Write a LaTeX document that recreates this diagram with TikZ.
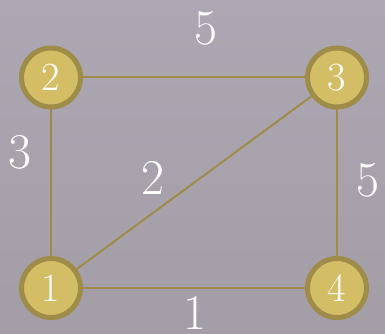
\documentclass[tikz,border=0pt]{standalone}
\usepackage{fontspec}
\definecolor{bgtop}{HTML}{ADA7B3}
\definecolor{bgbot}{HTML}{A29DA6}
\definecolor{gold}{HTML}{D3BE66}
\definecolor{goldline}{HTML}{9E8C48}
\begin{document}
\begin{tikzpicture}[x=1pt,y=-1pt,
  vert/.style={circle,draw=goldline,fill=gold,line width=5pt,minimum size=59pt,inner sep=0pt,text=white,font=\fontsize{40}{40}\selectfont},
  edge/.style={draw=goldline,line width=2pt},
  wlabel/.style={text=white,font=\fontsize{50}{50}\selectfont,inner sep=0pt}]
\shade[top color=bgtop,bottom color=bgbot] (0,0) rectangle (385,334);
\useasboundingbox (0,0) rectangle (385,334);
\node[vert] (n2) at (51,77.5) {2};
\node[vert] (n3) at (337,77.5) {3};
\node[vert] (n1) at (51,288) {1};
\node[vert] (n4) at (337,288) {4};
\begin{scope}[on background layer/.try]
\end{scope}
\draw[edge] (n2) -- (n3);
\draw[edge] (n2) -- (n1);
\draw[edge] (n1) -- (n3);
\draw[edge] (n3) -- (n4);
\draw[edge] (n1) -- (n4);
\node[wlabel] (l23) at (206,28) {5};
\node[wlabel] (l12) at (20,152) {3};
\node[wlabel] (l13) at (153,178) {2};
\node[wlabel] (l34) at (368,180) {5};
\node[wlabel] (l14) at (195,313) {1};
\end{tikzpicture}
\end{document}
